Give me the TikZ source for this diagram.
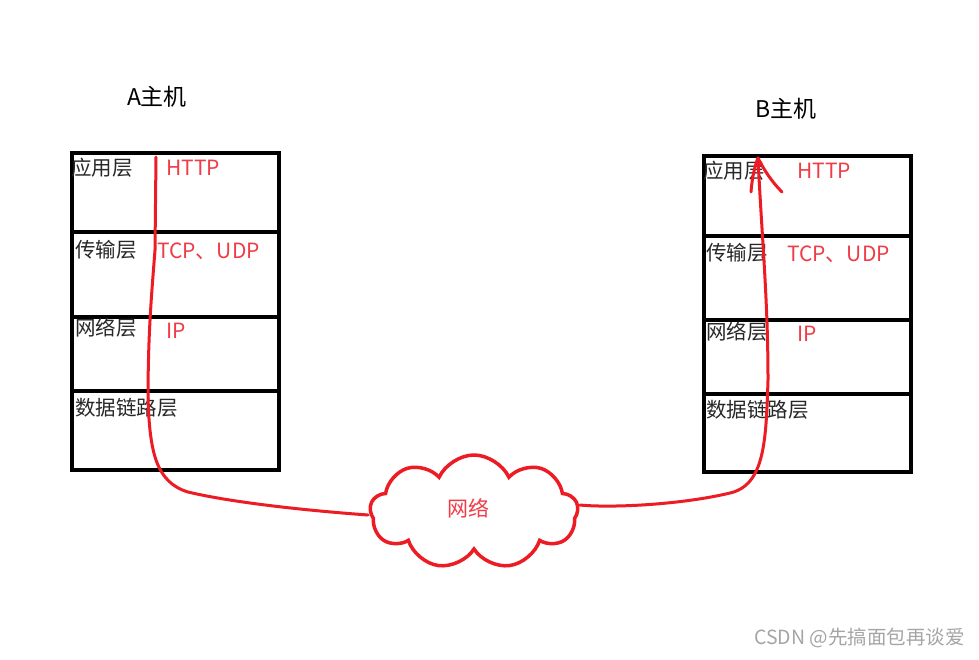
\documentclass[tikz,border=0pt]{standalone}
\usepackage{fontspec}
\setmainfont{Noto Sans CJK SC}
\usetikzlibrary{shapes.symbols}
\definecolor{pred}{RGB}{237,28,36}
\definecolor{tred}{RGB}{240,60,70}
\definecolor{tdark}{RGB}{40,40,40}
\definecolor{wm}{RGB}{165,165,165}
\begin{document}
\begin{tikzpicture}[x=1pt,y=-1pt,
  layerbox/.style={draw=black,line width=3.5pt,rectangle,inner sep=0pt,anchor=north west,minimum width=207pt},
  lname/.style={anchor=west,inner sep=0pt,text=tdark,font=\fontsize{20.5}{20.5}\selectfont},
  proto/.style={anchor=west,inner sep=0pt,text=tred,font=\fontsize{21}{21}\selectfont},
  host/.style={inner sep=0pt,text=black,font=\fontsize{23}{23}\selectfont},
  redline/.style={draw=pred,line width=3pt,line cap=round,line join=round}]
\useasboundingbox (0,0) rectangle (979,659);
\fill[white] (0,0) rectangle (979,659);
% host labels
\node[host] (ha) at (157,97) {A主机};
\node[host] (hb) at (786,109) {B主机};
% left stack
\node[layerbox,minimum height=79pt] (a1) at (70,151) {};
\node[layerbox,minimum height=85pt] (a2) at (70,230) {};
\node[layerbox,minimum height=74pt] (a3) at (70,315) {};
\node[layerbox,minimum height=79pt] (a4) at (70,389) {};
% right stack
\node[layerbox,minimum height=80pt] (b1) at (702,154) {};
\node[layerbox,minimum height=84pt] (b2) at (702,234) {};
\node[layerbox,minimum height=74pt] (b3) at (702,318) {};
\node[layerbox,minimum height=78pt] (b4) at (702,392) {};
% layer names
\node[lname] (ta1) at (71,168) {应用层};
\node[lname] (ta2) at (75,250) {传输层};
\node[lname] (ta3) at (75,328) {网络层};
\node[lname] (ta4) at (75,408) {数据链路层};
\node[lname] (tb1) at (703,171) {应用层};
\node[lname] (tb2) at (706,253) {传输层};
\node[lname] (tb3) at (706,332) {网络层};
\node[lname] (tb4) at (706,410) {数据链路层};
% protocols
\node[proto] (pa1) at (166,168) {HTTP};
\node[proto] (pa2) at (157,251) {TCP、UDP};
\node[proto] (pa3) at (166,331) {IP};
\node[proto] (pb1) at (797,171) {HTTP};
\node[proto] (pb2) at (787,254) {TCP、UDP};
\node[proto] (pb3) at (797,334) {IP};
% network cloud
\node[cloud,cloud puffs=9,cloud puff arc=130,cloud ignores aspect,draw=pred,line width=3.5pt,
      minimum width=208pt,minimum height=114pt,inner sep=0pt] (net) at (474,512) {};
\node[text=tred,inner sep=0pt,font=\fontsize{21}{21}\selectfont] (netl) at (468,508) {网络};
% paths
\coordinate (sA) at (156,157);
\coordinate (tipB) at (758,158);
\draw[redline] (sA) -- (155,250) .. controls (152,290) and (148,330) .. (148,400)
  .. controls (150,450) and (155,482) .. (188,492)
  .. controls (230,502) and (300,510) .. (368,515);
\draw[redline] (580,505) .. controls (610,508) and (680,505) .. (730,493)
  .. controls (765,485) and (766,440) .. (768,380)
  .. controls (768,300) and (762,240) .. (tipB);
\draw[redline] (751,192) .. controls (752,178) and (755,165) .. (tipB)
  .. controls (764,170) and (772,182) .. (782,192);
% watermark
\node[anchor=east,inner sep=0pt,text=wm,font=\fontsize{19.5}{19.5}\selectfont] (wmk) at (965,638) {CSDN @先搞面包再谈爱};
\end{tikzpicture}
\end{document}
